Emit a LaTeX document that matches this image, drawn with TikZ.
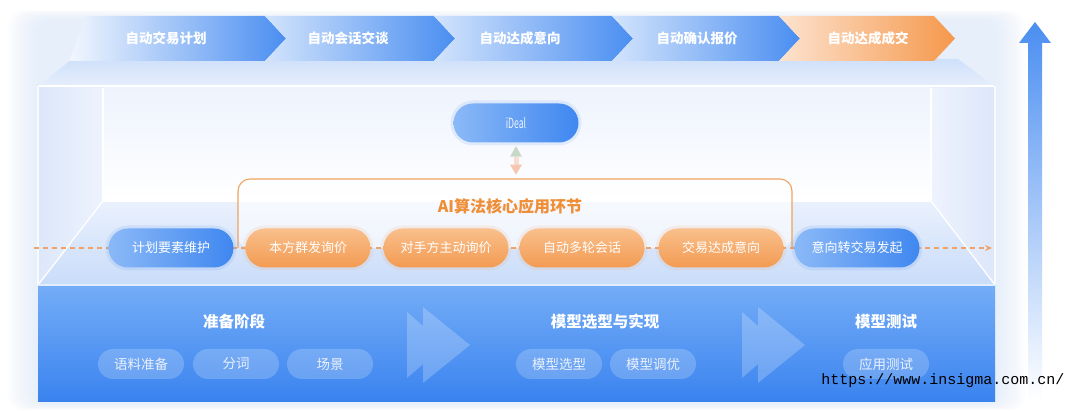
\documentclass[tikz,border=0pt]{standalone}
\usepackage{fontspec}
\setmainfont{Noto Sans CJK SC}
\newfontfamily\wmfont{Liberation Mono}
\usetikzlibrary{arrows.meta}
\definecolor{pillblueA}{HTML}{8BB9F7}
\definecolor{pillblueB}{HTML}{3F87F0}
\definecolor{pillorA}{HTML}{F9BF8C}
\definecolor{pillorB}{HTML}{F39B52}
\definecolor{orline}{HTML}{F0A25E}
\definecolor{ortitle}{HTML}{EF8E37}
\definecolor{chevA}{HTML}{D3E4FC}
\definecolor{chevB}{HTML}{4A8EF1}
\definecolor{chevOA}{HTML}{FDE3CF}
\definecolor{chevOB}{HTML}{F5984C}
\definecolor{baseA}{HTML}{74ADF7}
\definecolor{baseB}{HTML}{3A83EF}
\definecolor{glowc}{HTML}{D6E5FB}
\definecolor{wallA}{HTML}{DCE7FA}
\definecolor{wallB}{HTML}{EEF3FD}
\definecolor{floorA}{HTML}{EAF1FD}
\definecolor{floorB}{HTML}{C9DCF9}
\definecolor{bandA}{HTML}{CFE0FA}
\definecolor{bandB}{HTML}{E6EEFC}
\definecolor{dashcol}{HTML}{EFA36A}
\definecolor{upgreen}{HTML}{C9D8C6}
\definecolor{downpink}{HTML}{F4C7B2}
\begin{document}
\begin{tikzpicture}[x=1pt,y=-1pt,
  pillbase/.style={rounded corners=19.5pt, minimum width=125pt, minimum height=39pt, inner sep=0pt, text=white, font=\fontsize{13}{15}\selectfont},
  bluepill/.style={pillbase, left color=pillblueA, right color=pillblueB, preaction={draw=pillblueB, draw opacity=0.12, line width=6pt}},
  orpill/.style={pillbase, top color=pillorA, bottom color=pillorB, preaction={draw=pillorB, draw opacity=0.12, line width=6pt}},
  chevtext/.style={text=white, font=\bfseries\fontsize{13.5}{15}\selectfont},
  basetitle/.style={text=white, font=\bfseries\fontsize{15.5}{18}\selectfont},
  basepill/.style={rounded corners=15pt, minimum width=86pt, minimum height=30pt, inner sep=0pt, fill=white, fill opacity=0.2, text=white, text opacity=0.85, font=\fontsize{13.5}{15}\selectfont},
  glass/.style={draw=white, line width=1.3pt},
  ffwd/.style={fill=white, fill opacity=0.22},
]
\useasboundingbox (0,0) rectangle (1080,411);
\fill[white] (0,0) rectangle (1080,411);
% soft glow
\foreach \i in {1,...,12}{
  \fill[glowc, opacity=0.05, rounded corners=16pt] (38-2.5*\i,20-0.8*\i) rectangle (995+2.5*\i,403+0.6*\i);
}
% top face band
\shade[top color=bandA, bottom color=bandB] (72,59) -- (958,59) -- (994,86) -- (39,86) -- cycle;
% walls
\shade[left color=wallA, right color=wallB] (38,86) -- (103,88) -- (103,201) -- (38,285) -- cycle;
\shade[left color=wallB, right color=wallA] (995,86) -- (931,88) -- (931,201) -- (995,285) -- cycle;
\shade[top color=floorA, bottom color=floorB] (103,201) -- (931,201) -- (995,285) -- (38,285) -- cycle;
\shade[top color=wallB, bottom color=white] (103,88) rectangle (931,201);
% glass edges
\draw[glass] (103,88) -- (103,201) -- (931,201) -- (931,88);
\draw[glass] (103,201) -- (38,285);
\draw[glass] (931,201) -- (995,285);
\draw[glass, draw opacity=0.8] (38,86) -- (38,285);
\draw[glass, draw opacity=0.8] (995,86) -- (995,285);
\draw[white, line width=1.5pt] (39,86) -- (994,86);
% bracket area
\coordinate (brL) at (238,248);
\coordinate (brR) at (792,248);
\fill[white, opacity=0.6, rounded corners=12pt] (brL) -- (238,179) -- (792,179) -- (brR) -- cycle;
% flow line
\coordinate (fs) at (34,248);
\coordinate (fe) at (992,248);
\draw[dashcol, dash pattern=on 5pt off 4pt, line width=1.1pt, -{Stealth[length=7pt,width=6pt]}] (fs) -- (fe);
\draw[orline, line width=1.1pt, rounded corners=12pt] (brL) -- (238,179) -- (792,179) -- (brR);
% pills
\node[bluepill] (p1) at (171,248) {计划要素维护};
\node[orpill] (p2) at (308,248) {本方群发询价};
\node[orpill] (p3) at (446,248) {对手方主动询价};
\node[orpill] (p4) at (582,248) {自动多轮会话};
\node[orpill] (p5) at (721,248) {交易达成意向};
\node[bluepill] (p6) at (857,248) {意向转交易发起};
% iDeal
\node[bluepill, font=\fontsize{14}{16}\selectfont, text=white!85!pillblueA] (ideal) at (516,123) {\scalebox{0.62}[1]{iDeal}};
% double arrow
\fill[upgreen, shift={(ideal.south)}] (0,3.5) -- (-6,14) -- (6,14) -- cycle;
\fill[downpink!60!white, shift={(ideal.south)}] (-2.5,14) rectangle (2.5,23);
\fill[downpink, shift={(ideal.south)}] (-6,22) -- (6,22) -- (0,32) -- cycle;
% title
\node[font=\bfseries\fontsize{16}{18}\selectfont, text=ortitle] (title) at (510,206) {AI算法核心应用环节};
% base
\shade[top color=baseA, bottom color=baseB] (38,285) rectangle (995,402);
\draw[white, line width=1.2pt, opacity=0.8] (38,285) -- (995,285);
\node[basetitle] (s1) at (234,322) {准备阶段};
\node[basetitle] (s2) at (605,322) {模型选型与实现};
\node[basetitle] (s3) at (886,322) {模型测试};
\node[basepill] (b1) at (141,364) {语料准备};
\node[basepill] (b2) at (236,364) {分词};
\node[basepill] (b3) at (330,364) {场景};
\node[basepill] (b4) at (559,364) {模型选型};
\node[basepill] (b5) at (653,364) {模型调优};
\node[basepill] (b6) at (886,364) {应用测试};
\foreach \dx in {0,335}{
  \path[ffwd, shift={(\dx,0)}] (407,312) -- (423,326) -- (423,307) -- (470,345) -- (423,383) -- (423,364) -- (407,378) -- cycle;
}
% chevrons
\shade[left color=white!70!chevA, right color=chevB] (86,16) -- (265,16) -- (286,38.5) -- (265,61) -- (69,61) -- cycle;
\shade[left color=chevA, right color=chevB] (265,16) -- (434,16) -- (455,38.5) -- (434,61) -- (265,61) -- (286,38.5) -- cycle;
\shade[left color=chevA, right color=chevB] (434,16) -- (612,16) -- (633,38.5) -- (612,61) -- (434,61) -- (455,38.5) -- cycle;
\shade[left color=chevA, right color=chevB] (612,16) -- (779,16) -- (800,38.5) -- (779,61) -- (612,61) -- (633,38.5) -- cycle;
\shade[left color=chevOA, right color=chevOB] (779,16) -- (934,16) -- (955,38.5) -- (934,61) -- (779,61) -- (800,38.5) -- cycle;
\node[chevtext] (c1) at (166,38.5) {自动交易计划};
\node[chevtext] (c2) at (348,38.5) {自动会话交谈};
\node[chevtext] (c3) at (520,38.5) {自动达成意向};
\node[chevtext] (c4) at (697,38.5) {自动确认报价};
\node[chevtext] (c5) at (868,38.5) {自动达成成交};
% right arrow
\shade[top color=chevB, middle color=pillblueA!80!white, bottom color=white] (1035,22) -- (1051,43) -- (1042,43) -- (1042,400) -- (1028,400) -- (1028,43) -- (1019,43) -- cycle;
% watermark
\node[font=\wmfont\fontsize{15}{17}\selectfont, text=black] (wm) at (943,381) {https://www.insigma.com.cn/};
\end{tikzpicture}
\end{document}
